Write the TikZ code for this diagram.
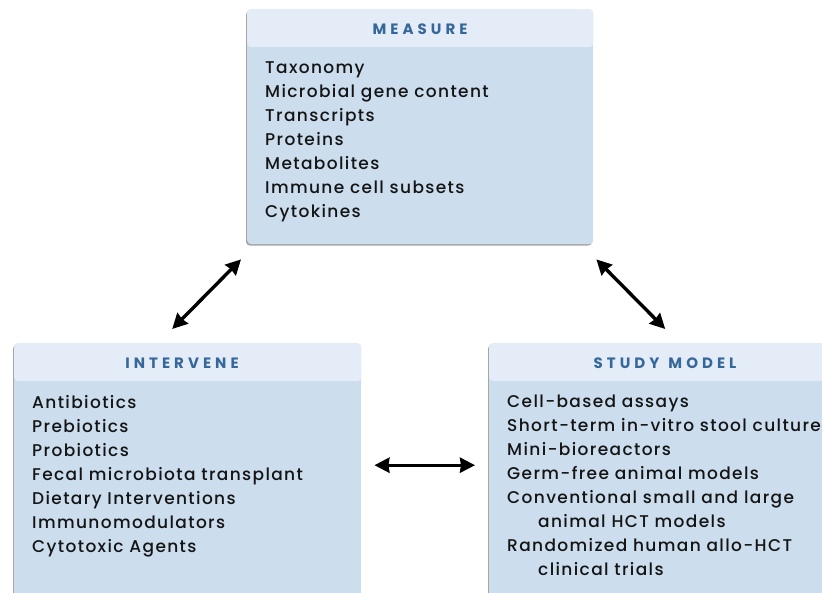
\documentclass[tikz,border=0pt]{standalone}
\usepackage{fontspec}
\setmainfont[LetterSpace=8]{Poppins Medium}
\newfontfamily\headfont[LetterSpace=27]{Poppins Bold}
\usetikzlibrary{arrows.meta,shadows}
\definecolor{headFill}{HTML}{E3ECF7}
\definecolor{bodyFill}{HTML}{CCDDEE}
\definecolor{headText}{HTML}{36679A}
\definecolor{itemText}{HTML}{141414}
\begin{document}
\begin{tikzpicture}[x=1pt,y=1pt,
  panel/.style={rectangle, rounded corners=4pt, fill=bodyFill, anchor=north west, inner sep=0pt,
    drop shadow={shadow xshift=-1.2pt, shadow yshift=-1.5pt, fill=black, opacity=0.35},
    path picture={\fill[headFill] (path picture bounding box.north west) rectangle ([yshift=-38pt]path picture bounding box.north east);}},
  headLabel/.style={text=headText, font=\headfont\fontsize{15}{17}\selectfont, inner sep=0pt},
  itemList/.style={text=itemText, font=\fontsize{17}{24}\selectfont, align=left, anchor=north west, inner sep=0pt},
  twoway/.style={{Stealth[length=15pt,width=15pt,inset=1pt]}-{Stealth[length=15pt,width=15pt,inset=1pt]}, line width=3.4pt}]
\clip (0,0) rectangle (822,-593);

% measure panel
\node[panel, minimum width=346pt, minimum height=235pt](measureBox) at (247,-9){};
\node[headLabel](measureHead) at (420,-29){MEASURE};
\node[itemList](measureList) at (265,-61){Taxonomy\\Microbial gene content\\Transcripts\\Proteins\\Metabolites\\Immune cell subsets\\Cytokines};

% intervene panel
\node[panel, minimum width=347pt, minimum height=260pt](interveneBox) at (14,-343){};
\node[headLabel](interveneHead) at (182,-363){INTERVENE};
\node[itemList](interveneList) at (32,-395){Antibiotics\\Prebiotics\\Probiotics\\Fecal microbiota transplant\\Dietary Interventions\\Immunomodulators\\Cytotoxic Agents};

% study model panel
\node[panel, minimum width=346pt, minimum height=260pt](studyBox) at (489,-343){};
\node[headLabel](studyHead) at (665,-363){STUDY\hspace{9pt}MODEL};
\node[itemList](studyList) at (507,-395){Cell-based assays\\Short-term in-vitro stool culture\\Mini-bioreactors\\Germ-free animal models\\Conventional small and large\\\hspace*{31pt}animal HCT models\\Randomized human allo-HCT\\\hspace*{31pt}clinical trials};

% arrows between panels
\draw[twoway] ([shift={(-15.5,14)}]interveneBox.north) -- ([shift={(-6,-15)}]measureBox.south west);
\draw[twoway] ([shift={(3,-15)}]measureBox.south east) -- ([shift={(3,14)}]studyBox.north);
\draw[twoway] ([shift={(13,8)}]interveneBox.east) -- ([shift={(-14,8)}]studyBox.west);
\end{tikzpicture}
\end{document}
